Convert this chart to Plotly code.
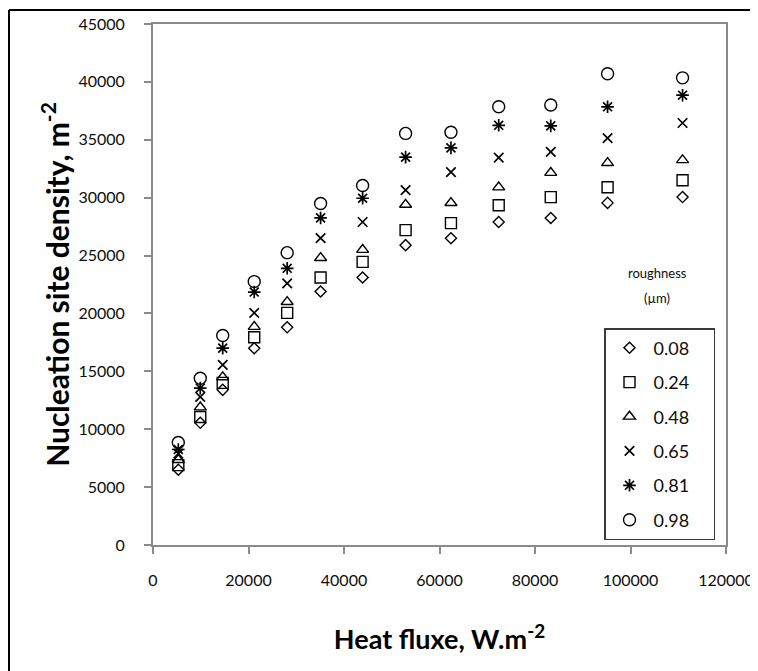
import plotly.graph_objects as go

heat_flux = [5300, 9900, 14600, 21200, 28100, 35100, 43900, 52900, 62400, 72400, 83300, 95200, 110900]

rough_008 = [6500, 10550, 13400, 17000, 18800, 21900, 23100, 25900, 26500, 27900, 28250, 29550, 30050]
rough_024 = [6900, 11050, 14000, 17950, 20050, 23100, 24450, 27200, 27800, 29350, 30050, 30900, 31500]
rough_048 = [7350, 11900, 14500, 18850, 21000, 24800, 25500, 29400, 29550, 30900, 32150, 33000, 33250]
rough_065 = [7900, 12800, 15550, 20050, 22600, 26500, 27900, 30650, 32200, 33450, 33950, 35150, 36450]
rough_081 = [8250, 13550, 17000, 21850, 23900, 28250, 29950, 33500, 34300, 36250, 36200, 37850, 38850]
rough_098 = [8850, 14400, 18100, 22750, 25250, 29500, 31050, 35550, 35650, 37850, 38000, 40700, 40350]

series_names = ["0.08", "0.24", "0.48", "0.65", "0.81", "0.98"]
series_values = [rough_008, rough_024, rough_048, rough_065, rough_081, rough_098]
symbols = ["diamond-open", "square-open", "triangle-up-open", "x-thin-open", "asterisk-open", "circle-open"]
sizes = [8.5, 11, 10.5, 9.5, 10.5, 12]
widths = [1.4, 1.4, 1.4, 1.7, 1.7, 1.4]

FONT = "Lato"
TXT = "#0d0d0d"
AX = "#8a8a8a"

# page has an 8px body margin; plot area targeted at x 153..726, y 24..545 on the page
OFF = 8
PL, PT, PW, PH = 153, 24, 573, 521


def px(xp):
    return (xp - PL) / PW


def py(yp):
    return (PT + PH - yp) / PH


fig = go.Figure()
for i, (name, vals, sym, sz, lw) in enumerate(zip(series_names, series_values, symbols, sizes, widths)):
    fig.add_trace(go.Scatter(
        x=heat_flux, y=vals, mode="markers", name=name + "\u00a0" * 4,
        legendgroup=f"g{i}",
        marker=dict(symbol=sym, size=sz, color="black",
                    line=dict(color="black", width=lw)),
    ))

W, H = 758 - OFF, 671 - OFF
fig.update_layout(
    width=W, height=H,
    margin=dict(l=PL - OFF, r=W - (PL - OFF) - PW, t=PT - OFF, b=H - (PT - OFF) - PH,
                autoexpand=False),
    paper_bgcolor="white", plot_bgcolor="white",
    font=dict(family=FONT, color=TXT),
    showlegend=True,
    legend=dict(
        x=px(604), y=py(328), xanchor="left", yanchor="top",
        bordercolor="#3a3a3a", borderwidth=1.5, bgcolor="white",
        font=dict(family=FONT, size=18, color=TXT),
        tracegroupgap=8, traceorder="grouped",
        itemwidth=38,
    ),
    xaxis=dict(
        range=[0, 120000], dtick=20000, tickformat="d", automargin=False,
        showline=True, linecolor=AX, linewidth=2, mirror=True,
        ticks="outside", ticklen=7, tickcolor=AX, tickwidth=1.5,
        showgrid=False, zeroline=False,
        tickfont=dict(family=FONT, size=16, color=TXT),
        ticklabelstandoff=13,
        title=dict(text="<b>Heat fluxe, W.m<sup>-2</sup></b>",
                   font=dict(family=FONT, size=27, color="black"),
                   standoff=42),
    ),
    yaxis=dict(
        range=[0, 45000], dtick=5000, tickformat="d", automargin=False,
        showline=True, linecolor=AX, linewidth=2, mirror=True,
        ticks="outside", ticklen=7, tickcolor=AX, tickwidth=1.5,
        showgrid=False, zeroline=False,
        tickfont=dict(family=FONT, size=16, color=TXT),
        ticklabelstandoff=16,
        title=dict(text="<b>Nucleation site density, m<sup>-2</sup></b>",
                   font=dict(family=FONT, size=30, color="black"),
                   standoff=0),
    ),
    annotations=[
        dict(text="roughness", xref="paper", yref="paper",
             x=px(657), y=py(273), showarrow=False,
             font=dict(family=FONT, size=13, color=TXT), xanchor="center", yanchor="middle"),
        dict(text="(µm)", xref="paper", yref="paper",
             x=px(657), y=py(298), showarrow=False,
             font=dict(family=FONT, size=13, color=TXT), xanchor="center", yanchor="middle"),
    ],
    shapes=[
        dict(type="line", xref="paper", yref="paper",
             x0=px(9), x1=px(9), y0=py(10), y1=py(680),
             line=dict(color="black", width=2)),
        dict(type="line", xref="paper", yref="paper",
             x0=px(9), x1=px(770), y0=py(10), y1=py(10),
             line=dict(color="black", width=2)),
    ],
)

fig.write_html("out.html")
